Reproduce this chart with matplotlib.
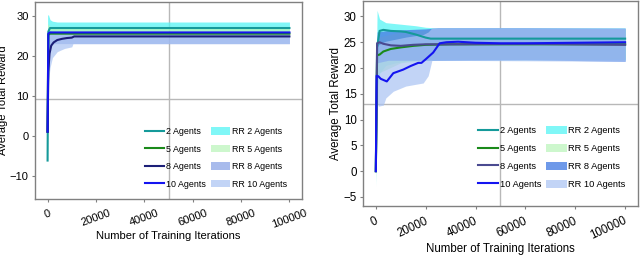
import numpy as np
import matplotlib.pyplot as plt
import matplotlib.transforms as mtransforms

plt.rcParams['font.family'] = ['Liberation Sans', 'DejaVu Sans']

# ---- left panel data ----
l2_x = [0, 300, 1000, 100000]
l2_y = [-6.2, 26.0, 26.9, 26.9]
l5_x = [0, 300, 1000, 100000]
l5_y = [1, 25.2, 25.5, 25.5]
l8_x = [0, 300, 800, 1500, 2500, 4000, 6000, 8000, 10000, 11000, 100000]
l8_y = [1, 16, 20.5, 22.5, 23.3, 23.9, 24.2, 24.4, 24.5, 24.8, 24.8]
l10_x = [0, 300, 1000, 100000]
l10_y = [1, 25.5, 25.8, 25.8]

lrr2_x = [0, 300, 1000, 2000, 4000, 100000]
lrr2_lo = [20, 24, 25.5, 26.0, 26.2, 26.2]
lrr2_hi = [30, 30.3, 29.0, 28.6, 28.4, 28.4]
lrr5_x = [0, 1000, 100000]
lrr5_lo = [24, 25.5, 25.5]
lrr5_hi = [28, 27.3, 27.3]
lrr8_x = [0, 500, 2000, 100000]
lrr8_lo = [15, 22, 23, 23]
lrr8_hi = [27, 26.2, 26.0, 26.0]
lrr10_x = [0, 500, 1000, 2000, 4000, 7000, 10000, 10500, 100000]
lrr10_lo = [8, 14, 17, 19.5, 21, 21.8, 22.2, 23, 23]
lrr10_hi = [26, 26, 26, 26, 26, 26, 26, 26, 26]

# ---- right panel data ----
r2_x = [0, 500, 1500, 3000, 6000, 10000, 12000, 16000, 20000, 22000, 100000]
r2_y = [0, 24, 27.2, 27.4, 27.2, 27.1, 27.0, 26.5, 25.9, 25.7, 25.7]
r5_x = [0, 500, 1500, 3000, 6000, 10000, 15000, 20000, 30000, 100000]
r5_y = [0, 22.5, 22.6, 23.2, 23.7, 24.0, 24.3, 24.5, 24.6, 24.6]
r8_x = [0, 500, 1500, 3000, 6000, 10000, 15000, 20000, 30000, 60000, 100000]
r8_y = [0, 24.8, 25.0, 24.7, 24.4, 24.3, 24.5, 24.6, 24.6, 24.7, 24.5]
r10_x = [0, 300, 1000, 2000, 4400, 7000, 11000, 14000, 17000, 18300, 20000, 23000,
         25600, 28300, 33000, 40000, 50000, 60000, 80000, 100000]
r10_y = [0, 18.5, 18.4, 17.9, 17.4, 19.0, 19.7, 20.4, 21.0, 21.0, 21.7, 23.0,
         24.8, 25.0, 25.1, 24.9, 24.8, 24.8, 24.9, 25.0]

rrr2_x = [0, 500, 1500, 4000, 8000, 12000, 16000, 20000, 24000, 100000]
rrr2_lo = [-3, 16, 19, 20.5, 21, 21.3, 21.5, 21.5, 21.6, 21.6]
rrr2_hi = [10, 31.2, 29.5, 28.8, 28.6, 28.4, 28.2, 27.9, 27.8, 27.8]
rrr5_x = [0, 1000, 10000, 25000, 100000]
rrr5_lo = [-2, 19, 21, 21.8, 21.8]
rrr5_hi = [8, 26, 27, 27.5, 27.5]
rrr8_x = [0, 500, 5000, 20000, 25000, 60000, 100000]
rrr8_lo = [0, 21, 21.5, 21.5, 21.5, 21.6, 21.3]
rrr8_hi = [8, 27, 27.3, 27.6, 27.8, 27.8, 27.7]
rrr10_x = [0, 500, 1000, 3000, 4000, 7000, 12000, 19000, 21000, 22500, 100000]
rrr10_lo = [0, 13.5, 12.6, 12.8, 14.2, 15.5, 16.5, 17.1, 18.5, 21.5, 21.3]
rrr10_hi = [18, 24, 24.5, 25, 25.2, 25.5, 26, 26.5, 27, 27.8, 27.8]

labels = ['2 Agents', '5 Agents', '8 Agents', '10 Agents']

fig = plt.figure(figsize=(6.4, 2.56), dpi=100)
ax1 = fig.add_axes([0.0547, 0.2227, 0.4172, 0.7695])
ax2 = fig.add_axes([0.567, 0.1965, 0.43, 0.7996])


def draw(ax, lines, bands, cols, bcols, balpha, hline, ylim, yticks,
         fs, lfs, rot, ha, dx, xpad, anchor):
    ax.axvline(50000, color='#b8b8b8', lw=1, zorder=0)
    ax.axhline(hline, color='#b8b8b8', lw=1, zorder=0)
    hb = []
    for (x, lo, hi), c, a, lab in zip(bands, bcols, balpha, labels):
        hb.append(ax.fill_between(x, lo, hi, color=c, alpha=a, lw=0, label='RR ' + lab))
    hl = []
    for (x, y), c, lab in zip(lines, cols, labels):
        hl += ax.plot(x, y, color=c, lw=1.5, label=lab)
    ax.set_xlim(-5200, 105200)
    ax.set_ylim(*ylim)
    ax.set_yticks(yticks)
    ax.set_xticks([0, 20000, 40000, 60000, 80000, 100000])
    ax.tick_params(labelsize=fs, length=2.5, color='#808080', pad=2)
    ax.tick_params(axis='x', pad=4)
    off = mtransforms.ScaledTranslation(dx / 100, 0, fig.dpi_scale_trans)
    for lab in ax.get_xticklabels():
        lab.set_rotation(rot)
        lab.set_ha(ha)
        lab.set_transform(lab.get_transform() + off)
    for s in ax.spines.values():
        s.set_color('#808080')
        s.set_linewidth(1)
    ax.set_xlabel('Number of Training Iterations', fontsize=fs, labelpad=xpad)
    ax.set_ylabel('Average Total Reward', fontsize=fs, labelpad=1)
    ax.legend(hl + hb, [h.get_label() for h in hl + hb], ncol=2, frameon=False,
              fontsize=lfs, loc='lower right', bbox_to_anchor=anchor,
              handlelength=2.2, handleheight=0.9,
              columnspacing=0.5, handletextpad=0.2, labelspacing=0.95,
              borderaxespad=0)


draw(ax1,
     [(l2_x, l2_y), (l5_x, l5_y), (l8_x, l8_y), (l10_x, l10_y)],
     [(lrr2_x, lrr2_lo, lrr2_hi), (lrr5_x, lrr5_lo, lrr5_hi),
      (lrr8_x, lrr8_lo, lrr8_hi), (lrr10_x, lrr10_lo, lrr10_hi)],
     ['#159a9a', '#1a8a1a', '#1c1f78', '#1414f0'],
     ['#55f5f5', '#b8f5b8', '#6f8fe0', '#a9c3f3'], [0.75, 0.7, 0.6, 0.7],
     9.1, (-15.8, 33.4), [-10, 0, 10, 20, 30],
     8, 6.4, 20, 'center', 0, 0.5, (0.957, 0.035))
draw(ax2,
     [(r2_x, r2_y), (r5_x, r5_y), (r8_x, r8_y), (r10_x, r10_y)],
     [(rrr2_x, rrr2_lo, rrr2_hi), (rrr5_x, rrr5_lo, rrr5_hi),
      (rrr8_x, rrr8_lo, rrr8_hi), (rrr10_x, rrr10_lo, rrr10_hi)],
     ['#159a9a', '#1a8a1a', '#4a4a90', '#1414f0'],
     ['#55f5f5', '#b8f5b8', '#4a80e4', '#a9c3f3'], [0.75, 0.7, 0.8, 0.7],
     13.1, (-6.7, 33), [-5, 0, 5, 10, 15, 20, 25, 30],
     8.3, 6.7, 25, 'right', 4, 1, (0.969, 0.064))

fig.savefig('out.png', dpi=100)
